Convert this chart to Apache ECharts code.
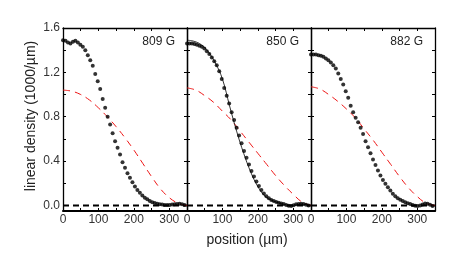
<!DOCTYPE html>
<html>
<head>
<meta charset="utf-8">
<script src="https://cdn.jsdelivr.net/npm/echarts@6/dist/echarts.min.js"></script>
<style>html,body{margin:0;padding:0;background:#fff}#c{width:463px;height:265px}</style>
</head>
<body>
<div id="c"></div>
<script>
// ---- data ----
const panelLabels = ['809 G', '850 G', '882 G'];
const positions = [0,7,14,21,28,35,42,49,56,63,70,77,84,91,98,105,112,119,126,133,140,147,154,161,168,175,182,189,196,203,210,217,224,231,238,245,252,259,266,273,280,287,294,301,308,315,322,329,336,343];
const dots809 = [1.49,1.485,1.47,1.46,1.475,1.485,1.47,1.45,1.43,1.40,1.355,1.31,1.26,1.185,1.12,1.05,0.96,0.88,0.80,0.73,0.65,0.58,0.52,0.46,0.39,0.34,0.29,0.25,0.21,0.17,0.14,0.115,0.09,0.07,0.055,0.04,0.03,0.022,0.015,0.01,0.008,0.005,0.004,0.005,0.008,0.01,0.012,0.015,0.01,0.003];
const dots850 = [1.46,1.46,1.46,1.455,1.45,1.44,1.43,1.415,1.39,1.365,1.335,1.30,1.265,1.21,1.14,1.06,0.99,0.92,0.84,0.77,0.70,0.63,0.56,0.49,0.43,0.37,0.31,0.26,0.215,0.175,0.14,0.108,0.082,0.065,0.05,0.04,0.032,0.025,0.018,0.012,0.005,-0.003,-0.004,0.002,0.01,0.014,0.015,0.012,0.007,0.0];
const dots882 = [1.36,1.36,1.36,1.355,1.35,1.34,1.325,1.31,1.29,1.265,1.235,1.19,1.14,1.09,1.03,0.97,0.90,0.84,0.79,0.75,0.70,0.645,0.58,0.525,0.47,0.415,0.365,0.315,0.27,0.23,0.195,0.165,0.135,0.105,0.083,0.065,0.052,0.04,0.03,0.02,0.012,0.004,-0.002,-0.004,0.0,0.008,0.017,0.015,0.006,-0.005];
const fitPositions = [0,25,50,75,100,125,150,175,200,225,250,275,300,325,350];
const fit809 = [1.04,1.03,1.00,0.95,0.88,0.80,0.71,0.61,0.50,0.38,0.26,0.15,0.07,0.02,0.0];
const fit850 = [1.06,1.04,0.99,0.93,0.85,0.77,0.67,0.57,0.47,0.37,0.27,0.18,0.10,0.03,0.0];
const fit882 = [1.07,1.05,1.00,0.94,0.87,0.79,0.69,0.59,0.48,0.37,0.26,0.16,0.08,0.02,0.0];
const theoryPositions = [0,20,40,60,80,100,120,140,160,180,200,220,240,260,280,300,320,340,350];
const theory850 = [1.49,1.48,1.45,1.385,1.285,1.14,0.90,0.67,0.47,0.30,0.17,0.085,0.045,0.022,0.005,0.0,0.012,0.006,0.0];
const baselineX = [0,350];
const baselineY = [0,0];
const yLabelValues = [0,0.4,0.8,1.2,1.6];
const yTickValues = [0,0.2,0.4,0.6,0.8,1.0,1.2,1.4,1.6];
const xLabelValues = [0,100,200,300];
const xTickValues = [50,100,150,200,250,300];
const xTitle = 'position (µm)';
const yTitle = 'linear density (1000/µm)';

// ---- chart ----
const font = '"Liberation Sans", Arial, sans-serif';
const lefts = [63, 187, 311];
const pw = 124, gTop = 28, ph = 183;
const grid = [], xAxis = [], yAxis = [], series = [], graphic = [];
const dotsAll = [dots809, dots850, dots882];
const fitAll = [fit809, fit850, fit882];
const lineStyleAxis = {color: '#000', width: 1.3};
function pairs(xs, ys){ return xs.map((x,i)=>[x, ys[i]]); }
for (let p = 0; p < 3; p++) {
  grid.push({left: lefts[p], top: gTop, width: pw, height: ph, containLabel: false});
  const xBase = {gridIndex: p, type: 'value', min: 0, max: 350,
    splitLine: {show: false}, axisLine: {show: true, onZero: false, lineStyle: lineStyleAxis},
    axisTick: {show: true, inside: true, length: 3, customValues: xTickValues, lineStyle: {color: '#000', width: 1}}};
  xAxis.push(Object.assign({}, xBase, {position: 'bottom',
    axisLine: {show: true, onZero: false, lineStyle: {color: '#000', width: 2}},
    axisLabel: {show: true, customValues: xLabelValues, margin: 3, fontSize: 12, color: '#333', fontFamily: font}}));
  xAxis.push(Object.assign({}, xBase, {position: 'top', axisLabel: {show: false}}));
  const yBase = {gridIndex: p, type: 'value', min: -0.05, max: 1.6,
    splitLine: {show: false}, axisLine: {show: true, onZero: false, lineStyle: lineStyleAxis},
    axisTick: {show: true, inside: true, length: 3, customValues: yTickValues, lineStyle: {color: '#000', width: 1}}};
  yAxis.push(Object.assign({}, yBase, {position: 'left',
    axisLabel: {show: p === 0, customValues: yLabelValues, margin: 3, fontSize: 12, color: '#333', fontFamily: font,
      formatter: v => v.toFixed(1)}}));
  yAxis.push(Object.assign({}, yBase, {position: 'right', axisLabel: {show: false}}));
  const xi = p * 2, yi = p * 2;
  series.push({type: 'line', xAxisIndex: xi, yAxisIndex: yi, data: pairs(baselineX, baselineY), symbol: 'none',
    lineStyle: {color: '#000', width: 2, type: [6, 4]}, z: 2, silent: true});
  series.push({type: 'line', xAxisIndex: xi, yAxisIndex: yi, data: pairs(fitPositions, fitAll[p]), symbol: 'none', smooth: 0.4,
    lineStyle: {color: '#ee1515', width: 1, type: [7, 5]}, z: 3, silent: true});
  if (p === 1) {
    series.push({type: 'line', xAxisIndex: xi, yAxisIndex: yi, data: pairs(theoryPositions, theory850), symbol: 'none', smooth: 0.4,
      lineStyle: {color: '#000', width: 0.8}, z: 4, silent: true});
  }
  series.push({type: 'scatter', xAxisIndex: xi, yAxisIndex: yi, data: pairs(positions, dotsAll[p]), symbol: 'circle', symbolSize: 4,
    itemStyle: {color: '#000'}, z: 5, silent: true});
  graphic.push({type: 'text', x: lefts[p] + pw - 12, y: 42,
    style: {text: panelLabels[p], font: '12px ' + font, fill: '#222', textAlign: 'right', textVerticalAlign: 'middle'}});
}
graphic.push({type: 'text', x: 247, y: 240, style: {text: xTitle, font: '14px ' + font, fill: '#222', textAlign: 'center', textVerticalAlign: 'middle'}});
graphic.push({type: 'text', x: 31, y: 116, rotation: Math.PI/2,
  style: {text: yTitle, font: '14px ' + font, fill: '#222', textAlign: 'center', textVerticalAlign: 'middle'}});

const chart = echarts.init(document.getElementById('c'), null, {renderer: 'canvas'});
chart.setOption({animation: false, backgroundColor: '#fff', grid, xAxis, yAxis, series, graphic});
</script>
</body>
</html>
